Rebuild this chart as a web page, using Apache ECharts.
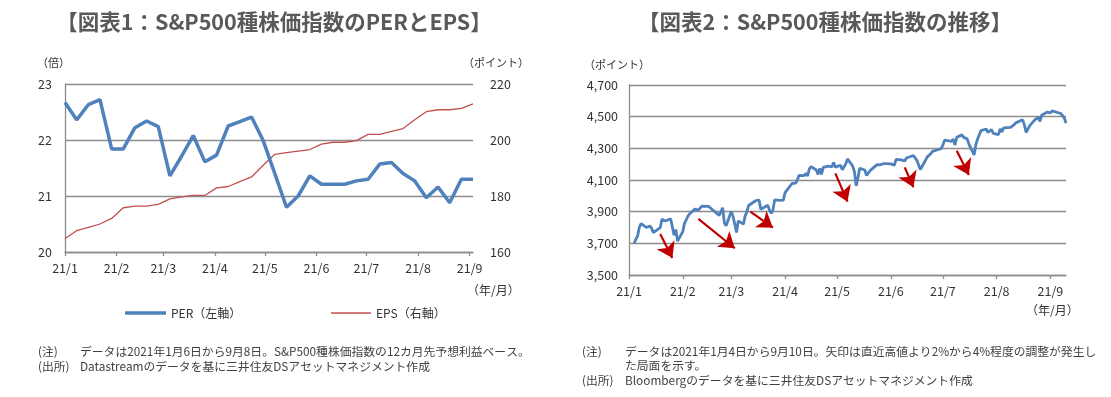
<!DOCTYPE html>
<html>
<head>
<meta charset="utf-8">
<script src="https://cdn.jsdelivr.net/npm/echarts@6/dist/echarts.min.js"></script>
<style>
  html, body { margin: 0; padding: 0; background: #fff; }
  #chart { width: 1111px; height: 397px; }
</style>
</head>
<body>
<div id="chart"></div>
<script>
// 図表1: weekly PER / EPS
const perDates = [
  '2021-01-01', '2021-01-08', '2021-01-15', '2021-01-22', '2021-01-29',
  '2021-02-05', '2021-02-12', '2021-02-19', '2021-02-26',
  '2021-03-05', '2021-03-12', '2021-03-19', '2021-03-26',
  '2021-04-02', '2021-04-09', '2021-04-16', '2021-04-23', '2021-04-30',
  '2021-05-07', '2021-05-14', '2021-05-21', '2021-05-28',
  '2021-06-04', '2021-06-11', '2021-06-18', '2021-06-25',
  '2021-07-02', '2021-07-09', '2021-07-16', '2021-07-23', '2021-07-30',
  '2021-08-06', '2021-08-13', '2021-08-20', '2021-08-27',
  '2021-09-03'
];
const perValues = [
  22.67, 22.36, 22.63, 22.72, 21.84, 21.84, 22.22, 22.34, 22.24,
  21.36, 21.71, 22.08, 21.61, 21.73, 22.25, 22.33, 22.41, 21.99,
  21.40, 20.80, 21.00, 21.36, 21.21, 21.21, 21.21, 21.27, 21.30,
  21.57, 21.60, 21.40, 21.27, 20.97, 21.16, 20.88, 21.30, 21.30
];
const epsValues = [
  164.8, 167.6, 168.8, 170.0, 172.0, 175.8, 176.4, 176.4, 177.0,
  179.0, 179.7, 180.2, 180.2, 182.9, 183.4, 185.1, 186.8, 191.0,
  194.9, 195.5, 196.0, 196.6, 198.5, 199.2, 199.2, 199.8, 202.0,
  202.0, 203.1, 204.1, 207.2, 210.1, 210.8, 210.8, 211.3, 212.9
];

// 図表2: daily S&P500 (month-day, 2021)
const spDates = [
  '01-04','01-05','01-06','01-07','01-08','01-11','01-12','01-13','01-14','01-15',
  '01-19','01-20','01-21','01-22','01-25','01-26','01-27','01-28','01-29',
  '02-01','02-02','02-03','02-04','02-05','02-08','02-09','02-10','02-11','02-12',
  '02-16','02-17','02-18','02-19','02-22','02-23','02-24','02-25','02-26',
  '03-01','03-02','03-03','03-04','03-05','03-08','03-09','03-10','03-11','03-12',
  '03-15','03-16','03-17','03-18','03-19','03-22','03-23','03-24','03-25','03-26',
  '03-29','03-30','03-31',
  '04-01','04-05','04-06','04-07','04-08','04-09','04-12','04-13','04-14','04-15',
  '04-16','04-19','04-20','04-21','04-22','04-23','04-26','04-27','04-28','04-29','04-30',
  '05-03','05-04','05-05','05-06','05-07','05-10','05-11','05-12','05-13','05-14',
  '05-17','05-18','05-19','05-20','05-21','05-24','05-25','05-26','05-27','05-28',
  '06-01','06-02','06-03','06-04','06-07','06-08','06-09','06-10','06-11',
  '06-14','06-15','06-16','06-17','06-18','06-21','06-22','06-23','06-24','06-25',
  '06-28','06-29','06-30',
  '07-01','07-02','07-06','07-07','07-08','07-09','07-12','07-13','07-14','07-15',
  '07-16','07-19','07-20','07-21','07-22','07-23','07-26','07-27','07-28','07-29','07-30',
  '08-02','08-03','08-04','08-05','08-06','08-09','08-10','08-11','08-12','08-13',
  '08-16','08-17','08-18','08-19','08-20','08-23','08-24','08-25','08-26','08-27',
  '08-30','08-31',
  '09-01','09-02','09-03','09-07','09-08','09-09','09-10'
];
const spValues = [
  3701, 3727, 3748, 3804, 3825, 3800, 3801, 3810, 3796, 3768,
  3799, 3852, 3853, 3841, 3855, 3850, 3751, 3787, 3714,
  3774, 3826, 3830, 3872, 3887, 3916, 3911, 3910, 3916, 3935,
  3933, 3931, 3914, 3907, 3877, 3881, 3925, 3829, 3811,
  3902, 3870, 3820, 3768, 3842, 3821, 3875, 3899, 3939, 3943,
  3969, 3963, 3974, 3915, 3913, 3941, 3911, 3889, 3910, 3975,
  3971, 3959, 3973,
  4020, 4078, 4074, 4080, 4097, 4129, 4128, 4142, 4125, 4170,
  4185, 4163, 4135, 4173, 4135, 4180, 4188, 4187, 4183, 4211, 4181,
  4193, 4165, 4168, 4202, 4233, 4188, 4152, 4063, 4113, 4174,
  4163, 4128, 4116, 4159, 4156, 4197, 4188, 4196, 4201, 4204,
  4202, 4208, 4193, 4230, 4227, 4227, 4220, 4239, 4247,
  4255, 4247, 4224, 4222, 4166, 4225, 4246, 4242, 4266, 4281,
  4291, 4292, 4298,
  4320, 4352, 4344, 4358, 4321, 4370, 4385, 4369, 4374, 4360,
  4327, 4258, 4323, 4359, 4367, 4412, 4422, 4401, 4401, 4419, 4395,
  4387, 4423, 4403, 4429, 4437, 4432, 4437, 4448, 4461, 4468,
  4480, 4448, 4400, 4406, 4442, 4480, 4486, 4496, 4470, 4509,
  4529, 4523,
  4524, 4537, 4535, 4520, 4514, 4493, 4459
];

// arrows: [from date, from value, to date, to value]
const arrows = [
  ['2021-01-19', 3759, '2021-01-26', 3607],
  ['2021-02-10', 3854, '2021-03-03', 3669],
  ['2021-03-12', 3900, '2021-03-25', 3799],
  ['2021-04-30', 4142, '2021-05-07', 3963],
  ['2021-06-09', 4180, '2021-06-14', 4054],
  ['2021-07-09', 4285, '2021-07-16', 4132]
];

const FONT = '"Noto Sans CJK JP", sans-serif';
const gridColor = '#8c8c8c';
const labelColor = '#333';

function monthLabel(value) {
  return '21/' + (new Date(value).getMonth() + 1);
}

function txt(x, y, text, opt) {
  return {
    type: 'text', x: x, y: y, silent: true,
    style: Object.assign({
      text: text, fontFamily: FONT, fontSize: 12, fill: labelColor,
      textAlign: 'left', textVerticalAlign: 'middle'
    }, opt || {})
  };
}

const timeAxis = (grid, min, max) => ({
  type: 'time',
  gridIndex: grid,
  min: min,
  max: max,
  splitNumber: 9,
  minInterval: 28 * 86400000,
  axisLine: { lineStyle: { color: gridColor, width: 1.3 } },
  axisTick: { show: true, length: 4, inside: false, lineStyle: { color: gridColor, width: 1.3 } },
  splitLine: { show: false },
  axisLabel: {
    color: labelColor, fontFamily: FONT, fontSize: 12.5, margin: 10,
    formatter: monthLabel, showMinLabel: true, showMaxLabel: false
  }
});

const chart = echarts.init(document.getElementById('chart'));

const option = {
  backgroundColor: '#fff',
  animation: false,
  grid: [
    { left: 65, right: 638, top: 84, bottom: 145 },
    { left: 629, right: 45, top: 85, bottom: 122 }
  ],
  legend: [
    {
      data: ['PER（左軸）'], left: 120, top: 302, icon: 'rect',
      itemWidth: 41, itemHeight: 3.5, itemGap: 4,
      textStyle: { color: labelColor, fontFamily: FONT, fontSize: 12 }
    },
    {
      data: ['EPS（右軸）'], left: 326, top: 302, icon: 'rect',
      itemWidth: 40, itemHeight: 1.6, itemGap: 4,
      textStyle: { color: labelColor, fontFamily: FONT, fontSize: 12 }
    }
  ],
  xAxis: [
    timeAxis(0, '2021-01-01', '2021-09-03'),
    timeAxis(1, '2021-01-01', '2021-09-10')
  ],
  yAxis: [
    {
      type: 'value', gridIndex: 0, min: 20, max: 23, interval: 1,
      axisLine: { show: true, lineStyle: { color: gridColor, width: 1.3 } },
      axisTick: { show: false },
      splitLine: { lineStyle: { color: gridColor, width: 1.3 } },
      axisLabel: { color: labelColor, fontFamily: FONT, fontSize: 12.5, margin: 13 }
    },
    {
      type: 'value', gridIndex: 0, position: 'right', min: 160, max: 220, interval: 20,
      axisLine: { show: false }, axisTick: { show: false }, splitLine: { show: false },
      axisLabel: { color: labelColor, fontFamily: FONT, fontSize: 12.5, margin: 17 }
    },
    {
      type: 'value', gridIndex: 1, min: 3500, max: 4700, interval: 200,
      axisLine: { show: true, lineStyle: { color: gridColor, width: 1.3 } },
      axisTick: { show: false },
      splitLine: { lineStyle: { color: gridColor, width: 1.3 } },
      axisLabel: {
        color: labelColor, fontFamily: FONT, fontSize: 12.5, margin: 11,
        formatter: v => v.toLocaleString('en-US')
      }
    }
  ],
  series: [
    {
      name: 'PER（左軸）', type: 'line', xAxisIndex: 0, yAxisIndex: 0,
      data: perDates.map((d, i) => [d, perValues[i]]),
      showSymbol: false, color: '#4F81BD',
      lineStyle: { width: 3.5, color: '#4F81BD' }, z: 3
    },
    {
      name: 'EPS（右軸）', type: 'line', xAxisIndex: 0, yAxisIndex: 1,
      data: perDates.map((d, i) => [d, epsValues[i]]),
      showSymbol: false, color: '#C0504D',
      lineStyle: { width: 1.3, color: '#C0504D' }, z: 2
    },
    {
      name: 'S&P500', type: 'line', xAxisIndex: 1, yAxisIndex: 2,
      data: spDates.map((d, i) => ['2021-' + d, spValues[i]]),
      showSymbol: false,
      lineStyle: { width: 2.8, color: '#4F81BD' },
      markLine: {
        silent: true, animation: false,
        symbol: ['none', 'arrow'], symbolSize: 15,
        label: { show: false },
        lineStyle: { color: '#C00000', width: 2.2, type: 'solid' },
        data: arrows.map(a => [
          { coord: [a[0], a[1]] },
          { coord: [a[2], a[3]] }
        ])
      }
    }
  ],
  graphic: [
    txt(274, 22, '【図表1：S&P500種株価指数のPERとEPS】',
      { fontSize: 21.5, fontWeight: 'bold', fill: '#595959', textAlign: 'center' }),
    txt(825, 22, '【図表2：S&P500種株価指数の推移】',
      { fontSize: 21.5, fontWeight: 'bold', fill: '#595959', textAlign: 'center' }),
    txt(37, 63, '（倍）', { fontSize: 11 }),
    txt(463, 63, '（ポイント）', { fontSize: 11 }),
    txt(584, 65, '（ポイント）', { fontSize: 11 }),
    txt(467, 290, '（年/月）', { fontSize: 12 }),
    txt(1026, 310, '（年/月）', { fontSize: 12 }),
    txt(38, 352, '(注)', { fontSize: 11.8, fill: '#404040' }),
    txt(80, 352, 'データは2021年1月6日から9月8日。S&P500種株価指数の12カ月先予想利益ベース。', { fontSize: 11.8, fill: '#404040' }),
    txt(38, 367, '(出所)', { fontSize: 11.8, fill: '#404040' }),
    txt(80, 367, 'Datastreamのデータを基に三井住友DSアセットマネジメント作成', { fontSize: 11.8, fill: '#404040' }),
    txt(582, 352, '(注)', { fontSize: 11.8, fill: '#404040' }),
    txt(625, 352, 'データは2021年1月4日から9月10日。矢印は直近高値より2%から4%程度の調整が発生し', { fontSize: 11.8, fill: '#404040' }),
    txt(625, 366, 'た局面を示す。', { fontSize: 11.8, fill: '#404040' }),
    txt(582, 381, '(出所)', { fontSize: 11.8, fill: '#404040' }),
    txt(625, 381, 'Bloombergのデータを基に三井住友DSアセットマネジメント作成', { fontSize: 11.8, fill: '#404040' })
  ]
};

chart.setOption(option);
</script>
</body>
</html>
